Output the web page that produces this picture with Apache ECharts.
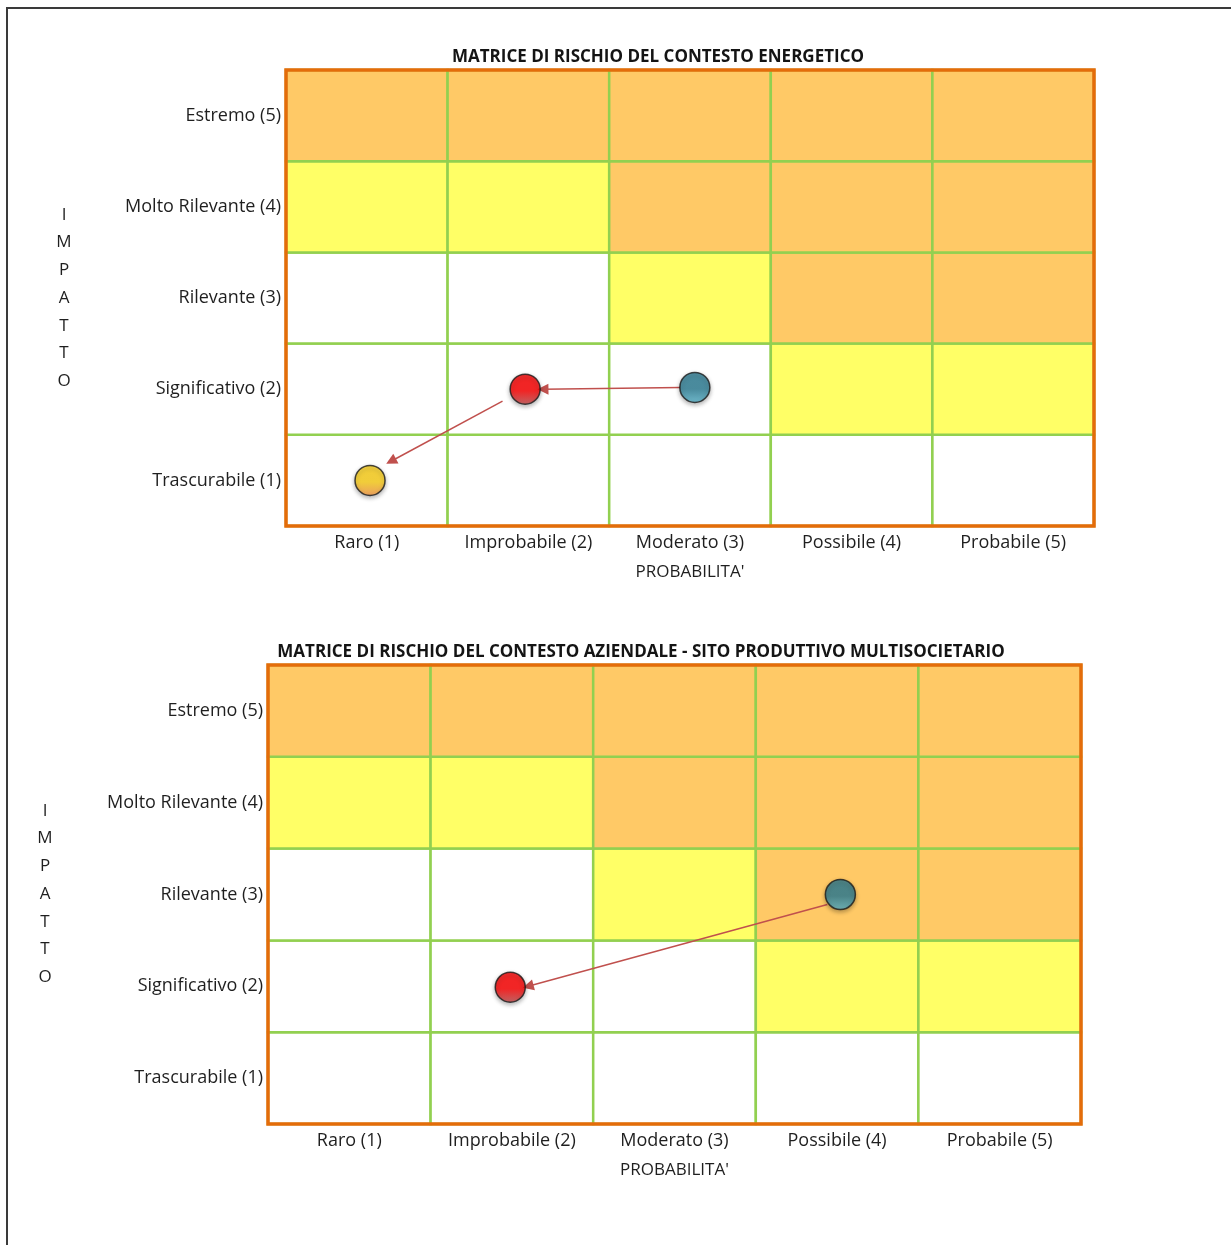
<!DOCTYPE html>
<html>
<head>
<meta charset="utf-8">
<title>Matrici di rischio</title>
<script src="https://cdn.jsdelivr.net/npm/echarts@6/dist/echarts.min.js"></script>
<style>
  html, body { margin: 0; padding: 0; background: #ffffff; }
  #chart { width: 1231px; height: 1245px; }
</style>
</head>
<body>
<div id="chart"></div>
<script>
// Axis categories (bottom-to-top for impact)
const probLabels = ['Raro (1)', 'Improbabile (2)', 'Moderato (3)', 'Possibile (4)', 'Probabile (5)'];
const impactLabels = ['Trascurabile (1)', 'Significativo (2)', 'Rilevante (3)', 'Molto Rilevante (4)', 'Estremo (5)'];
const probName = "PROBABILITA'";
const impactName = 'IMPATTO';

const titleEnergy = 'MATRICE DI RISCHIO DEL CONTESTO ENERGETICO';
const titleCompany = 'MATRICE DI RISCHIO DEL CONTESTO AZIENDALE - SITO PRODUTTIVO MULTISOCIETARIO';

// Risk level per cell: rows = impact 1..5, columns = probability 1..5
// 0 = basso, 1 = medio, 2 = alto
const riskLevels = [
  [0, 0, 0, 0, 0],
  [0, 0, 0, 1, 1],
  [0, 0, 1, 2, 2],
  [1, 1, 2, 2, 2],
  [2, 2, 2, 2, 2]
];
const levelColors = ['#FFFFFF', '#FFFF66', '#FFC966'];

// Positions of the risk points [probabilita, impatto]
const energyInitial = [3.03, 2.02];
const energyCurrent = [1.98, 2.00];
const energyTarget = [1.02, 1.00];
const companyInitial = [4.02, 3.00];
const companyCurrent = [1.99, 1.99];

// Arrow segments between points [[x1, y1], [x2, y2]]
const energyArrows = [
  [[2.94, 2.02], [2.09, 2.00]],
  [[1.84, 1.87], [1.15, 1.21]]
];
const companyArrows = [
  [[3.94, 2.89], [2.10, 2.00]]
];

const FONT = '"Open Sans"';
const TEXT_COLOR = '#1f1f1f';

function cellData() {
  const out = [];
  for (let r = 0; r < riskLevels.length; r++) {
    for (let c = 0; c < riskLevels[r].length; c++) {
      out.push([c + 1, r + 1, riskLevels[r][c]]);
    }
  }
  return out;
}

function grad(top, bottom) {
  return new echarts.graphic.LinearGradient(0, 0, 0, 1, [
    { offset: 0, color: top },
    { offset: 0.55, color: top },
    { offset: 1, color: bottom }
  ]);
}

const markerStyles = {
  blue: grad('#2E7F96', '#5CB8CF'),
  red: grad('#FF0000', '#C05050'),
  yellow: grad('#FFD21A', '#F7964A')
};

function markerSeries(gridIdx, name, point, style) {
  return {
    type: 'scatter',
    name: name,
    xAxisIndex: gridIdx * 2 + 1,
    yAxisIndex: gridIdx * 2 + 1,
    symbol: 'circle',
    symbolSize: 30,
    z: 6,
    silent: true,
    itemStyle: {
      color: style,
      borderColor: '#1a1a1a',
      borderWidth: 1.5,
      shadowBlur: 4,
      shadowOffsetY: 2,
      shadowColor: 'rgba(0,0,0,0.35)'
    },
    data: [point]
  };
}

function buildGridSeries(gridIdx) {
  const ax = gridIdx * 2 + 1;
  return [
    {
      type: 'custom',
      xAxisIndex: ax,
      yAxisIndex: ax,
      z: 2,
      silent: true,
      data: cellData(),
      renderItem: function (params, api) {
        const c = api.coord([api.value(0), api.value(1)]);
        const s = api.size([1, 1]);
        return {
          type: 'rect',
          shape: { x: c[0] - s[0] / 2, y: c[1] - s[1] / 2, width: s[0], height: s[1] },
          style: { fill: levelColors[api.value(2)], stroke: '#92D050', lineWidth: 2.5 }
        };
      }
    },
    {
      type: 'custom',
      xAxisIndex: ax,
      yAxisIndex: ax,
      z: 3,
      silent: true,
      encode: { x: [0, 2], y: [1, 3] },
      data: [[0.5, 5.5, 5.5, 0.5]],
      renderItem: function (params, api) {
        const a = api.coord([api.value(0), api.value(1)]);
        const b = api.coord([api.value(2), api.value(3)]);
        return {
          type: 'rect',
          shape: { x: a[0], y: a[1], width: b[0] - a[0], height: b[1] - a[1] },
          style: { fill: null, stroke: '#E46C0A', lineWidth: 3.5 }
        };
      }
    }
  ];
}

function arrowSeries(gridIdx, segments) {
  return {
    type: 'lines',
    coordinateSystem: 'cartesian2d',
    xAxisIndex: gridIdx * 2 + 1,
    yAxisIndex: gridIdx * 2 + 1,
    z: 5,
    silent: true,
    symbol: ['none', 'triangle'],
    symbolSize: [9, 11],
    lineStyle: { color: '#C0504D', width: 1.5, opacity: 1, curveness: 0 },
    data: segments.map(s => ({ coords: s }))
  };
}

const grids = [
  { left: 286, top: 70, width: 808, height: 456 },
  { left: 268, top: 665, width: 813, height: 459 }
];

const xAxes = [];
const yAxes = [];
grids.forEach((g, i) => {
  xAxes.push({
    type: 'category', gridIndex: i, data: probLabels, boundaryGap: true,
    axisLine: { show: false }, axisTick: { show: false }, splitLine: { show: false },
    axisLabel: { color: TEXT_COLOR, fontFamily: FONT, fontSize: 18, margin: 8, interval: 0, hideOverlap: false },
    name: probName, nameLocation: 'middle', nameGap: 38,
    nameTextStyle: { color: TEXT_COLOR, fontFamily: FONT, fontSize: 17 }
  });
  xAxes.push({ type: 'value', gridIndex: i, min: 0.5, max: 5.5, show: false });
  yAxes.push({
    type: 'category', gridIndex: i, data: impactLabels, boundaryGap: true,
    axisLine: { show: false }, axisTick: { show: false }, splitLine: { show: false },
    axisLabel: { color: TEXT_COLOR, fontFamily: FONT, fontSize: 18, margin: 5, interval: 0, hideOverlap: false }
  });
  yAxes.push({ type: 'value', gridIndex: i, min: 0.5, max: 5.5, show: false });
});

function stacked(word) { return word.split('').join('\n'); }

const option = {
  animation: false,
  backgroundColor: '#ffffff',
  grid: grids,
  xAxis: xAxes,
  yAxis: yAxes,
  graphic: [
    { type: 'rect', z: 0, shape: { x: 7, y: 8, width: 1400, height: 1400 },
      style: { fill: null, stroke: '#3a3a3a', lineWidth: 2 } },
    { type: 'text', x: 658, y: 57, style: { text: titleEnergy, textAlign: 'center', textVerticalAlign: 'middle',
      font: 'bold 17px ' + FONT, fill: '#141414' } },
    { type: 'text', x: 641, y: 652, style: { text: titleCompany, textAlign: 'center', textVerticalAlign: 'middle',
      font: 'bold 17px ' + FONT, fill: '#141414' } },
    { type: 'text', x: 64, y: 298, style: { text: stacked(impactName), textAlign: 'center', textVerticalAlign: 'middle',
      font: '17px ' + FONT, lineHeight: 27.7, fill: TEXT_COLOR } },
    { type: 'text', x: 45, y: 894, style: { text: stacked(impactName), textAlign: 'center', textVerticalAlign: 'middle',
      font: '17px ' + FONT, lineHeight: 27.7, fill: TEXT_COLOR } }
  ],
  series: [
    ...buildGridSeries(0),
    arrowSeries(0, energyArrows),
    markerSeries(0, 'Iniziale', energyInitial, markerStyles.blue),
    markerSeries(0, 'Attuale', energyCurrent, markerStyles.red),
    markerSeries(0, 'Obiettivo', energyTarget, markerStyles.yellow),
    ...buildGridSeries(1),
    arrowSeries(1, companyArrows),
    markerSeries(1, 'Iniziale', companyInitial, markerStyles.blue),
    markerSeries(1, 'Attuale', companyCurrent, markerStyles.red)
  ]
};

const chart = echarts.init(document.getElementById('chart'), null, { renderer: 'canvas' });
chart.setOption(option);
</script>
</body>
</html>
